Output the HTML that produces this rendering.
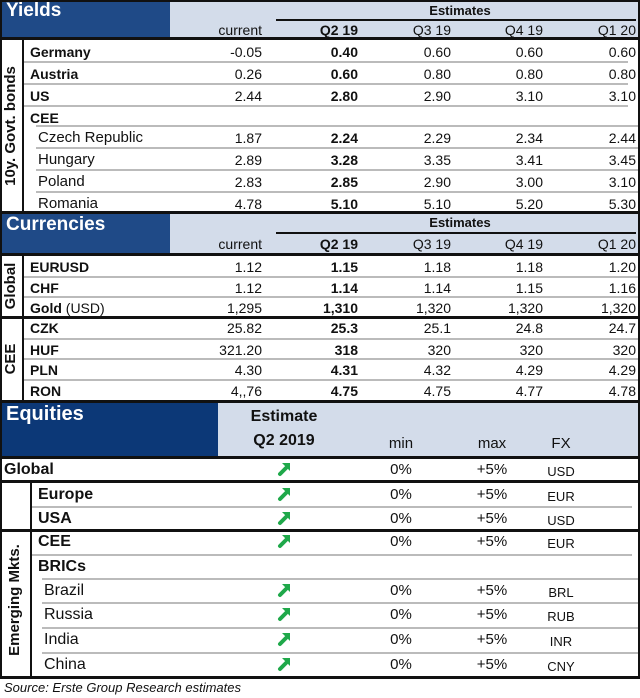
<!DOCTYPE html>
<html><head><meta charset="utf-8">
<style>
body{margin:0;width:640px;height:698px;background:#fff;position:relative;overflow:hidden;font-family:"Liberation Sans",Arial,sans-serif;color:#111}
.a{position:absolute;white-space:nowrap;font-size:14px;line-height:16px}
.b{font-weight:bold}
.r{text-align:right}
.box{position:absolute;box-sizing:border-box}
</style></head><body>
<div id="root"></div>
<script>
const root=document.getElementById('root');
function box(x,y,w,h,bg,name){const d=document.createElement('div');d.className='box';d.style.cssText=`left:${x}px;top:${y}px;width:${w}px;height:${h}px;background:${bg}`;


root.appendChild(d);return d;}
function txt(x,y,s,name,opt){opt=opt||{};const d=document.createElement('div');d.className='a'+(opt.b?' b':'');d.textContent=s;
if(opt.r){d.style.right=(640-x)+'px';}else if(opt.c){d.style.left=(x-60)+'px';d.style.width='120px';d.style.textAlign='center';}else d.style.left=x+'px';
d.style.top=y+'px';if(opt.fs)d.style.fontSize=opt.fs+'px';if(opt.col)d.style.color=opt.col;if(opt.i)d.style.fontStyle='italic';


root.appendChild(d);return d;}
function vtxt(cx,cy,s,name){const d=txt(cx,cy,s,name,{b:true,c:true});d.style.top=(cy-8)+'px';d.style.transform='rotate(-90deg)';d.style.fontSize='15px';return d;}
function hl(x,y,w,h,c,name){return box(x,y,w,h,c,name);}

const DARK='#1f4a87',DARK2='#0c3877',LIGHT='#d3dcea';
const colR=[262,358,451,543,636];
const heads=['current','Q2 19','Q3 19','Q4 19','Q1 20'];

// ---------- YIELDS ----------
const yNames=['Germany','Austria','US','CEE','Czech Republic','Hungary','Poland','Romania'];
const yVals=[['-0.05','0.40','0.60','0.60','0.60'],['0.26','0.60','0.80','0.80','0.80'],['2.44','2.80','2.90','3.10','3.10'],null,
['1.87','2.24','2.29','2.34','2.44'],['2.89','3.28','3.35','3.41','3.45'],['2.83','2.85','2.90','3.00','3.10'],['4.78','5.10','5.10','5.20','5.30']];
const yTop=[40,62,84,106,126,148,170,192,212];
// ---------- CURRENCIES ----------
const cNames=['EURUSD','CHF','Gold','CZK','HUF','PLN','RON'];
const cVals=[['1.12','1.15','1.18','1.18','1.20'],['1.12','1.14','1.14','1.15','1.16'],['1,295','1,310','1,320','1,320','1,320'],
['25.82','25.3','25.1','24.8','24.7'],['321.20','318','320','320','320'],['4.30','4.31','4.32','4.29','4.29'],['4,,76','4.75','4.75','4.77','4.78']];
const cTop=[256,277,297,317,339,359,380,400];
// ---------- EQUITIES ----------
const eNames=['Europe','USA','CEE','BRICs','Brazil','Russia','India','China'];
const eFX=['EUR','USD','EUR','','BRL','RUB','INR','CNY'];
const eTop=[483,507,530,555,579,603,628,653,677];

function section(top,hh,title,name,tw,col){
  box(0,top,640,hh,LIGHT,name+'-header');
  box(0,top,tw,hh,col,name+'-title-bg');
  txt(6,top+3,title,name+'-title',{b:true,fs:19,col:'#fff'});
}
section(0,38,'Yields','yields',170,DARK);
txt(460,3,'Estimates','yields-estimates-label',{b:true,c:true,fs:13});
hl(276,19,360,2,'#111','yields-estimates-rule');
heads.forEach((h,i)=>txt(colR[i],22,h,'yields-col-'+i,{r:true,b:i==1}));
hl(0,37,640,3,'#111','yields-header-border');
yNames.forEach((n,i)=>{
  const t=yTop[i],sub=i>=4;
  txt(sub?38:30,t+4,n,'yields-row-'+n.toLowerCase().replace(/ /g,'-'),{b:!sub,fs:sub?15:14});
  if(yVals[i]) yVals[i].forEach((v,j)=>txt(colR[j],t+4,v,'yields-val-'+i+'-'+j,{r:true,b:j==1}));
  if(i<7) hl(sub||i==3?36:24,yTop[i+1]-1,604,2,'#bbb','yields-row-line');
});
hl(22,40,2,172,'#111','yields-label-divider');
vtxt(11,126,'10y. Govt. bonds','yields-side-label');
hl(0,211,640,3,'#111','yields-bottom-border');

section(214,40,'Currencies','currencies',170,DARK);
txt(460,215,'Estimates','currencies-estimates-label',{b:true,c:true,fs:13});
hl(276,232,360,2,'#111','currencies-estimates-rule');
heads.forEach((h,i)=>txt(colR[i],236,h,'currencies-col-'+i,{r:true,b:i==1}));
hl(0,253,640,3,'#111','currencies-header-border');
cNames.forEach((n,i)=>{
  const t=cTop[i];
  const d=txt(30,t+3,n,'currencies-row-'+n.toLowerCase(),{b:true});
  if(n=='Gold'){const s=document.createElement('span');s.style.fontWeight='normal';s.textContent=' (USD)';d.appendChild(s);}
  cVals[i].forEach((v,j)=>txt(colR[j],t+3,v,'currencies-val-'+i+'-'+j,{r:true,b:j==1}));
  if(i<6) hl(24,cTop[i+1]-1,616,i==2?3:2,i==2?'#111':'#bbb','currencies-row-line');
});
hl(0,316,24,3,'#111','currencies-group-line');
hl(22,256,2,144,'#111','currencies-label-divider');
vtxt(11,286,'Global','currencies-global-label');
vtxt(11,359,'CEE','currencies-cee-label');
hl(0,400,640,3,'#111','currencies-bottom-border');

box(0,403,640,54,LIGHT,'equities-header');
box(0,403,218,54,DARK2,'equities-title-bg');
txt(6,406,'Equities','equities-title',{b:true,fs:20,col:'#fff'});
txt(284,409,'Estimate','equities-estimate-label',{b:true,c:true,fs:16});
txt(284,433,'Q2 2019','equities-q2-label',{b:true,c:true,fs:16});
txt(401,436,'min','equities-min-head',{c:true,fs:15});
txt(492,436,'max','equities-max-head',{c:true,fs:15});
txt(561,436,'FX','equities-fx-head',{c:true,fs:15});
hl(0,456,640,3,'#111','equities-header-border');

function arrow(cx,cy,name){
  const s=document.createElementNS('http://www.w3.org/2000/svg','svg');
  s.setAttribute('width','16');s.setAttribute('height','16');
  s.style.cssText=`position:absolute;left:${cx-8}px;top:${cy-8}px`;
  s.innerHTML='<path d="M4 13 L10 7" stroke="#1fa84a" stroke-width="4" stroke-linecap="round"/><path d="M6 2 L14 2 L14 10 Z" fill="#1fa84a"/>';
  
  
  root.appendChild(s);
}
function eqRow(x,y,label,fx,name,bold){
  txt(x,y+4,label,name+'-label',{b:bold,fs:16});
  if(fx){arrow(284,y+11,name+'-arrow');
    txt(401,y+4,'0%',name+'-min',{c:true,fs:15});
    txt(492,y+4,'+5%',name+'-max',{c:true,fs:15});
    txt(561,y+6,fx,name+'-fx',{c:true,fs:13});}
}
eqRow(4,458,'Global','USD','equities-global',true);
hl(0,480,640,3,'#111','equities-global-border');
eNames.forEach((n,i)=>{
  const sub=i>=4;
  eqRow(sub?44:38,eTop[i],n,eFX[i],'equities-'+n.toLowerCase(),!sub);
  if(i<7) hl(i==1?0:(sub||i==3?42:32),eTop[i+1]-1,i==1?640:600,i==1?3:2,i==1?'#111':'#bbb','equities-row-line');
});
hl(30,483,2,194,'#111','equities-label-divider');
vtxt(15,600,'Emerging Mkts.','equities-side-label');
hl(0,676,640,3,'#111','equities-bottom-border');
hl(0,0,2,679,'#111','left-border');
hl(638,0,2,679,'#111','right-border');
hl(0,0,640,2,'#111','top-border');
txt(4,680,'Source: Erste Group Research estimates','source-note',{i:true,fs:13});
</script>
</body></html>
